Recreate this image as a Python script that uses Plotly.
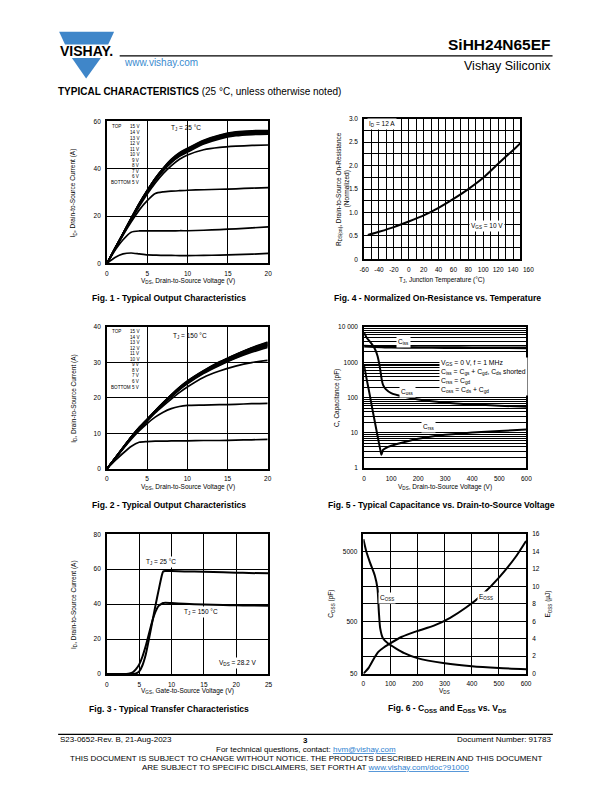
import plotly.graph_objects as go

# The page body has an 8 px default margin, so the figure is drawn 8 px in and sized to fit.
OFF = 8
W, H = 612 - 2 * OFF, 792 - 2 * OFF
FONT = "Liberation Sans, Arial, Helvetica, sans-serif"


def X(px):
    return (px - OFF) / W


def Y(py):
    return 1 - (py - OFF) / H


# ---------------- DATA ----------------
# Fig. 1 / Fig. 2 : output characteristics
VDS_OUT = [0, 1, 2, 3, 4, 5, 6, 7, 8, 9, 10, 12, 14, 16, 18, 20]
VGS_STEPS = ["15 V", "14 V", "13 V", "12 V", "11 V", "10 V", "9 V", "8 V", "7 V", "6 V", "5 V"]

ID25_5V = [0, 2.5, 4.0, 4.4, 4.0, 3.6, 3.5, 3.4, 3.4, 3.3, 3.3, 3.4, 3.5, 3.7, 3.9, 4.2]
ID25_6V = [0, 5.5, 10.0, 13.2, 13.7, 13.7, 13.7, 13.7, 13.7, 13.8, 13.8, 14.0, 14.3, 14.6, 15.0, 15.4]
ID25_7V = [0, 6.0, 12.0, 17.5, 22.5, 26.5, 29.5, 30.2, 30.5, 30.7, 30.9, 31.1, 31.3, 31.5, 31.8, 32.0]
ID25_8V = [0, 6.1, 12.2, 18.3, 24.0, 29.3, 34.0, 38.0, 41.3, 44.0, 45.8, 48.0, 49.0, 49.5, 49.8, 50.0]
ID25_9V = [0, 6.2, 12.4, 18.6, 24.6, 30.0, 35.0, 39.2, 42.6, 45.2, 47.0, 50.4, 52.6, 53.9, 54.4, 54.6]
ID25_10V = [0, 6.2, 12.5, 18.7, 24.8, 30.3, 35.3, 39.5, 43.0, 45.6, 47.4, 50.8, 53.0, 54.3, 54.8, 55.0]
ID25_11V = [0, 6.3, 12.5, 18.8, 24.9, 30.5, 35.5, 39.7, 43.2, 45.9, 47.7, 51.1, 53.3, 54.6, 55.1, 55.3]
ID25_12V = [0, 6.3, 12.6, 18.9, 25.0, 30.6, 35.7, 39.9, 43.4, 46.1, 48.0, 51.4, 53.6, 54.9, 55.4, 55.5]
ID25_13V = [0, 6.3, 12.6, 19.0, 25.1, 30.7, 35.8, 40.1, 43.6, 46.3, 48.2, 51.6, 53.8, 55.1, 55.6, 55.7]
ID25_14V = [0, 6.4, 12.7, 19.0, 25.2, 30.8, 35.9, 40.2, 43.8, 46.5, 48.4, 51.8, 54.0, 55.3, 55.8, 55.9]
ID25_15V = [0, 6.4, 12.7, 19.1, 25.3, 30.9, 36.0, 40.3, 44.0, 46.7, 48.6, 52.0, 54.2, 55.5, 56.0, 56.1]

ID150_5V = [0, 2.3, 4.4, 6.3, 7.5, 7.7, 7.8, 7.8, 7.9, 7.9, 7.9, 8.0, 8.0, 8.1, 8.2, 8.3]
ID150_6V = [0, 2.8, 5.6, 8.3, 10.7, 12.8, 14.6, 16.0, 17.0, 17.6, 17.9, 18.0, 18.1, 18.2, 18.4, 18.5]
ID150_7V = [0, 2.9, 5.8, 8.6, 11.2, 13.5, 15.8, 17.8, 19.7, 21.5, 23.1, 25.8, 27.6, 29.0, 30.0, 30.6]
ID150_8V = [0, 2.9, 5.8, 8.7, 11.3, 13.6, 16.0, 18.2, 20.3, 22.3, 24.0, 26.9, 29.2, 31.2, 32.9, 34.3]
ID150_9V = [0, 2.9, 5.8, 8.7, 11.4, 13.7, 16.1, 18.3, 20.4, 22.4, 24.2, 27.1, 29.4, 31.4, 33.2, 34.6]
ID150_10V = [0, 2.9, 5.9, 8.8, 11.4, 13.8, 16.2, 18.4, 20.5, 22.5, 24.3, 27.2, 29.6, 31.6, 33.4, 34.8]
ID150_11V = [0, 3.0, 5.9, 8.8, 11.5, 13.8, 16.2, 18.5, 20.6, 22.6, 24.4, 27.3, 29.7, 31.8, 33.6, 35.0]
ID150_12V = [0, 3.0, 5.9, 8.9, 11.5, 13.9, 16.3, 18.5, 20.7, 22.7, 24.5, 27.4, 29.9, 32.0, 33.8, 35.2]
ID150_13V = [0, 3.0, 6.0, 8.9, 11.6, 13.9, 16.3, 18.6, 20.8, 22.8, 24.6, 27.5, 30.0, 32.1, 34.0, 35.4]
ID150_14V = [0, 3.0, 6.0, 9.0, 11.6, 14.0, 16.4, 18.7, 20.9, 22.9, 24.7, 27.6, 30.1, 32.2, 34.1, 35.6]
ID150_15V = [0, 3.0, 6.0, 9.0, 11.7, 14.0, 16.4, 18.7, 20.9, 23.0, 24.8, 27.7, 30.2, 32.3, 34.2, 35.8]

# Fig. 3 : transfer characteristics
VGS_TR = [0, 2, 3, 3.5, 4, 4.5, 5, 5.5, 6, 6.5, 7, 7.5, 8, 8.5, 8.7, 9, 10, 12, 15, 18, 20, 22, 25]
ID_TR_25C = [0, 0, 0, 0, 0.05, 0.3, 1.5, 5, 11, 20, 29.5, 39, 48, 56.5, 58.7, 59, 58.9, 58.7, 58.5, 58.2, 58, 57.8, 57.6]
ID_TR_150C = [0, 0, 0.05, 0.3, 1.0, 2.8, 5.5, 10, 16, 23, 30, 35.5, 39, 40.3, 40.6, 40.8, 40.6, 40.2, 39.8, 39.5, 39.3, 39.2, 39.1]

# Fig. 4 : normalized on-resistance vs temperature
TJ = [-55, -40, -20, 0, 20, 40, 60, 80, 100, 120, 140, 150]
RDS_NORM = [0.52, 0.59, 0.69, 0.81, 0.94, 1.1, 1.29, 1.5, 1.74, 2.04, 2.33, 2.48]

# Fig. 5 : capacitance vs VDS
VDS_CISS = [0, 100, 200, 300, 400, 500, 600]
CISS = [2900, 2700, 2650, 2630, 2610, 2600, 2580]
VDS_COSS = [0, 10, 20, 30, 40, 50, 55, 60, 65, 70, 80, 100, 150, 200, 300, 400, 500, 600]
COSS = [7000, 5000, 4000, 3200, 2400, 1500, 1000, 600, 330, 230, 175, 135, 105, 88, 72, 64, 59, 55]
VDS_CRSS = [0, 10, 20, 30, 40, 50, 60, 64, 70, 80, 100, 150, 200, 250, 300, 400, 500, 600]
CRSS = [800, 320, 130, 50, 20, 8, 3.3, 2.4, 3.3, 3.7, 4.3, 5.5, 6.8, 7.9, 8.8, 10.2, 11.4, 12.4]

# Fig. 6 : Coss and Eoss vs VDS
VDS_C6 = [0, 10, 24, 42, 52, 57, 62, 72, 90, 151, 199, 300, 400, 500, 600]
COSS6 = [18400, 11100, 6670, 3730, 2090, 755, 365, 236, 190, 123, 99, 79, 69, 64, 61]
VDS_E6 = [0, 20, 40, 55, 75, 90, 140, 200, 260, 320, 380, 440, 500, 560, 600]
EOSS6 = [0, 0.7, 1.8, 2.5, 3.0, 3.3, 4.2, 4.9, 5.5, 6.4, 7.6, 9.1, 11.0, 13.3, 15.2]

# ---------------- FIGURE ----------------
fig = go.Figure()
LW = 1.7


def add_line(x, y, xa, ya, width=LW):
    fig.add_trace(go.Scatter(x=x, y=y, mode="lines", xaxis=xa, yaxis=ya,
                             line=dict(color="black", width=width, shape="spline", smoothing=0.6),
                             hoverinfo="skip", showlegend=False))


for s in [ID25_5V, ID25_6V, ID25_7V, ID25_8V, ID25_9V, ID25_10V, ID25_11V,
          ID25_12V, ID25_13V, ID25_14V, ID25_15V]:
    add_line(VDS_OUT, s, "x", "y")
for s in [ID150_5V, ID150_6V, ID150_7V, ID150_8V, ID150_9V, ID150_10V, ID150_11V,
          ID150_12V, ID150_13V, ID150_14V, ID150_15V]:
    add_line(VDS_OUT, s, "x2", "y2")
add_line(VGS_TR, ID_TR_25C, "x3", "y3", 2.0)
add_line(VGS_TR, ID_TR_150C, "x3", "y3", 2.0)
add_line(TJ, RDS_NORM, "x4", "y4", 2.0)
add_line(VDS_CISS, CISS, "x5", "y5", 2.6)
add_line(VDS_COSS, COSS, "x5", "y5", 2.0)
add_line(VDS_CRSS, CRSS, "x5", "y5", 2.0)
add_line(VDS_C6, COSS6, "x6", "y6", 2.0)
add_line(VDS_E6, EOSS6, "x6", "y7", 2.0)


def ax(dom, rng, **kw):
    d = dict(domain=dom, range=rng, showline=True, mirror=True, linecolor="black",
             linewidth=1.6, showgrid=True, gridcolor="black", gridwidth=0.9,
             zeroline=False, ticks="", ticklabelstandoff=3,
             tickfont=dict(size=6.5, color="black", family=FONT), fixedrange=True)
    d.update(kw)
    return d


def xd(a, b):
    return [X(a), X(b)]


def yd(top, bottom):
    return [Y(bottom), Y(top)]


minor_log5 = [m * 10 ** e for e in range(4) for m in range(2, 10)]
c_lo = 1.69897
c_hi = c_lo + 8 / 3
neg_alias = {"\u2212" + str(v): "-" + str(v) for v in (20, 40, 60)}
neg_alias["0.0"] = "0"

layout = dict(
    width=W, height=H, margin=dict(l=0, r=0, t=0, b=0), autosize=False,
    paper_bgcolor="white", plot_bgcolor="white", showlegend=False,
    font=dict(family=FONT, color="black", size=6.5),
    # Fig 1
    xaxis=ax(xd(103.7, 268), [0, 20], anchor="y", dtick=5),
    yaxis=ax(yd(118.3, 261.7), [0, 60], anchor="x", dtick=20),
    # Fig 2
    xaxis2=ax(xd(103.7, 267.5), [0, 20], anchor="y2", dtick=5),
    yaxis2=ax(yd(326, 469), [0, 40], anchor="x2", dtick=10),
    # Fig 3
    xaxis3=ax(xd(103.7, 268.3), [0, 25], anchor="y3", dtick=5),
    yaxis3=ax(yd(535, 676), [0, 80], anchor="x3", dtick=20),
    # Fig 4
    xaxis4=ax(xd(365.7, 525), [-60, 150], anchor="y4", tick0=-60, dtick=20, labelalias=neg_alias,
              minor=dict(dtick=10, tick0=-60, showgrid=True, gridcolor="black", gridwidth=0.9)),
    yaxis4=ax(yd(115.7, 257.7), [0, 3], anchor="x4", dtick=0.5, tickformat=".1f",
              labelalias=neg_alias,
              minor=dict(dtick=0.25, showgrid=True, gridcolor="black", gridwidth=0.9)),
    # Fig 5
    xaxis5=ax(xd(365.7, 531), [0, 600], anchor="y5", dtick=100, showgrid=False),
    yaxis5=ax(yd(326, 468.3), [0, 4], anchor="x5", type="log",
              tickvals=[1, 10, 100, 1000, 10000], ticktext=["1", "10", "100", "1000", "10 000"],
              gridwidth=1.2,
              minor=dict(tickvals=minor_log5, showgrid=True, gridcolor="black", gridwidth=0.7)),
    # Fig 6
    xaxis6=ax(xd(365, 530.7), [0, 600], anchor="y6", dtick=100),
    yaxis6=ax(yd(534.7, 675.7), [c_lo, c_hi], anchor="x6", type="log", showgrid=False,
              tickvals=[50, 500, 10 ** (c_lo + 7 / 3)], ticktext=["50", "500", "5000"]),
    yaxis7=ax(yd(534.7, 675.7), [0, 16], anchor="x6", overlaying="y6", side="right",
              dtick=2, mirror=False),
)
fig.update_layout(**layout)

ann = []


def txt(x, y, s, size=6.5, xanchor="center", yanchor="middle", angle=0, bold=False, color="black", **kw):
    if bold:
        s = "<b>" + s + "</b>"
    ann.append(dict(x=X(x), y=Y(y), xref="paper", yref="paper", text=s, showarrow=False,
                    xanchor=xanchor, yanchor=yanchor, textangle=angle,
                    font=dict(size=size, color=color, family=FONT), **kw))


CAP = 8.6

# Header
txt(82.5, 47.5, "VISHAY.", size=14, bold=True)
txt(119, 59, "www.vishay.com", size=10, xanchor="left", color="#3a8bd0")
txt(558, 40.5, "SiHH24N65EF", size=15.5, xanchor="right", bold=True)
txt(558, 62.5, "Vishay Siliconix", size=12.5, xanchor="right")
txt(52, 88, "<b>TYPICAL CHARACTERISTICS</b> (25 °C, unless otherwise noted)", size=10, xanchor="left")

# Fig 1 texts
txt(70, 190, "I<sub>D</sub>, Drain-to-Source Current (A)", angle=-90)
txt(186, 279, "V<sub>DS</sub>, Drain-to-Source Voltage (V)")
txt(167, 296.5, "Fig. 1 - Typical Output Characteristics", size=CAP, bold=True)
txt(184, 125.5, "T<sub>J</sub> = 25 °C")
txt(106.5, 124, "TOP", size=4.6, xanchor="left")
txt(106, 180, "BOTTOM", size=4.6, xanchor="left")
for i, v in enumerate(VGS_STEPS):
    txt(139.5, 124 + i * 5.6, v, size=4.6, xanchor="right")

# Fig 2 texts
txt(70, 397.5, "I<sub>D</sub>, Drain-to-Source Current (A)", angle=-90)
txt(186, 487.5, "V<sub>DS</sub>, Drain-to-Source Voltage (V)")
txt(167, 505.5, "Fig. 2 - Typical Output Characteristics", size=CAP, bold=True)
txt(188, 335, "T<sub>J</sub> = 150 °C")
txt(106.5, 330.5, "TOP", size=4.6, xanchor="left")
txt(106, 386.5, "BOTTOM", size=4.6, xanchor="left")
for i, v in enumerate(VGS_STEPS):
    txt(139.5, 330.5 + i * 5.6, v, size=4.6, xanchor="right")

# Fig 3 texts
txt(70, 605.5, "I<sub>D</sub>, Drain-to-Source Current (A)", angle=-90)
txt(186, 693, "V<sub>GS</sub>, Gate-to-Source Voltage (V)")
txt(167, 711, "Fig. 3 - Typical Transfer Characteristics", size=CAP, bold=True)
txt(159, 563.5, "T<sub>J</sub> = 25 °C", bgcolor="white")
txt(200, 613.5, "T<sub>J</sub> = 150 °C", bgcolor="white")
txt(237, 665, "V<sub>DS</sub> = 28.2 V", bgcolor="white")

# Fig 4 texts
txt(340, 186.7, "R<sub>DS(on)</sub>, Drain-to-Source On-Resistance", angle=-90)
txt(348.5, 186.7, "(Normalized)", angle=-90)
txt(445, 278.5, "T<sub>J</sub>, Junction Temperature (°C)")
txt(533, 267.6, "160")
txt(368.5, 121.5, "I<sub>D</sub> = 12 A", xanchor="left", bgcolor="white")
txt(491, 223.5, "V<sub>GS</sub> = 10 V", bgcolor="white")
txt(440, 297, "Fig. 4 - Normalized On-Resistance vs. Temperature", size=CAP, bold=True)

# Fig 5 texts
txt(338.5, 397, "C, Capacitance (pF)", angle=-90)
txt(448, 487, "V<sub>DS</sub>, Drain-to-Source Voltage (V)")
txt(445, 505.5, "Fig. 5 - Typical Capacitance vs. Drain-to-Source Voltage", size=CAP, bold=True)
txt(406, 341.5, "C<sub>iss</sub>", bgcolor="white")
txt(410, 391, "C<sub>oss</sub>", bgcolor="white")
txt(431.5, 427, "C<sub>rss</sub>", bgcolor="white")
txt(442, 356, "V<sub>GS</sub> = 0 V, f = 1 MHz<br>C<sub>iss</sub> = C<sub>gs</sub> + C<sub>gd</sub>, C<sub>ds</sub> shorted"
    "<br>C<sub>rss</sub> = C<sub>gd</sub><br>C<sub>oss</sub> = C<sub>ds</sub> + C<sub>gd</sub>",
    size=6.8, xanchor="left", yanchor="top", align="left", bgcolor="white")

# Fig 6 texts
txt(332, 605, "C<sub>OSS</sub> (pF)", angle=-90)
txt(553, 605, "E<sub>OSS</sub> (µJ)", angle=-90)
txt(448, 693, "V<sub>DS</sub>")
txt(389, 599, "C<sub>OSS</sub>", bgcolor="white")
txt(490, 598.5, "E<sub>OSS</sub>", bgcolor="white")
txt(450, 711, "Fig. 6 - C<sub>OSS</sub> and E<sub>OSS</sub> vs. V<sub>DS</sub>", size=CAP, bold=True)

# Footer
txt(54, 742.5, "S23-0652-Rev. B, 21-Aug-2023", size=8, xanchor="left")
txt(306, 743, "3", size=8, bold=True)
txt(558, 742.5, "Document Number: 91783", size=8, xanchor="right")
txt(306, 752.5, "For technical questions, contact: "
    "<span style='color:#2f7fd0;text-decoration:underline'>hvm@vishay.com</span>", size=8)
txt(306, 761.5, "THIS DOCUMENT IS SUBJECT TO CHANGE WITHOUT NOTICE. THE PRODUCTS DESCRIBED HEREIN AND THIS DOCUMENT",
    size=8)
txt(306, 770.5, "ARE SUBJECT TO SPECIFIC DISCLAIMERS, SET FORTH AT "
    "<span style='color:#2f7fd0;text-decoration:underline'>www.vishay.com/doc?91000</span>", size=8)

fig.update_layout(annotations=ann)

# Shapes: logo and rules
BLUE = "#3f86c9"


def path(pts):
    return "M " + " L ".join(f"{X(a):.5f},{Y(b):.5f}" for a, b in pts) + " Z"


shapes = [
    dict(type="path", xref="paper", yref="paper", path=path([(55, 28), (111, 28), (105, 40.7), (61, 40.7)]),
         fillcolor=BLUE, line=dict(width=0)),
    dict(type="path", xref="paper", yref="paper", path=path([(68, 54.3), (97.5, 54.3), (82.5, 75)]),
         fillcolor=BLUE, line=dict(width=0)),
    dict(type="line", xref="paper", yref="paper", x0=X(116.7), x1=X(557.7), y0=Y(52.3), y1=Y(52.3),
         line=dict(color="black", width=1.2)),
    dict(type="line", xref="paper", yref="paper", x0=X(54), x1=X(558), y0=Y(737), y1=Y(737),
         line=dict(color="black", width=1.2)),
]
fig.update_layout(shapes=shapes)

fig.write_html("out.html")
